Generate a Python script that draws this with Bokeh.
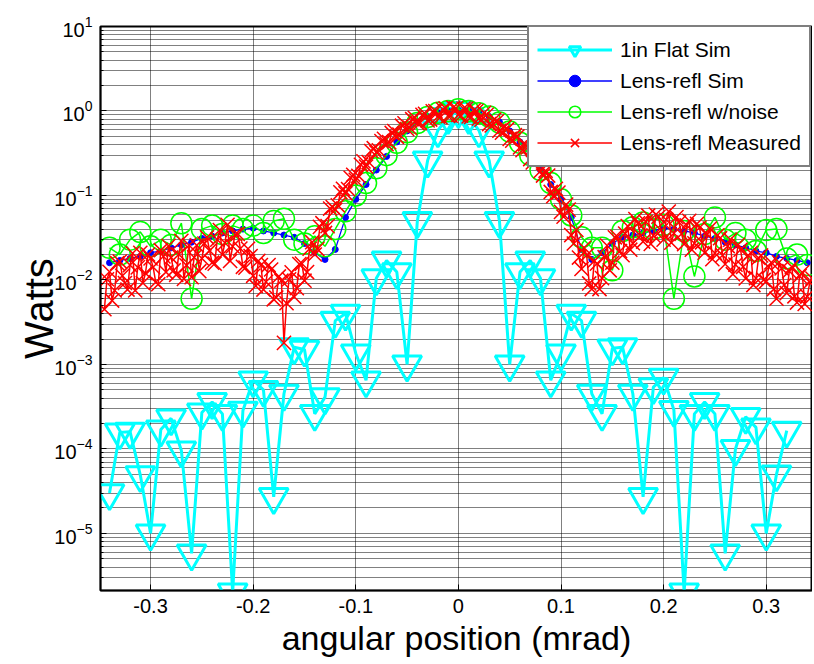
import numpy as np
from bokeh.plotting import figure
from bokeh.models import (Range1d, FixedTicker, LogTickFormatter, CustomJSTickFormatter,
                          Legend, LegendItem)
from bokeh.embed import file_html
from bokeh.resources import INLINE

FONT = "Liberation Sans"

# ---------------- data ----------------
flat_x = [round(-0.34 + 0.01 * i, 2) for i in range(67)]          # -0.34 .. 0.32
flat_y = [3.0e-5, 1.57e-4, 1.6e-4, 4.9e-5, 1.0e-5, 1.7e-4, 2.3e-4, 9.6e-5, 5.8e-6, 2.7e-4,
          3.6e-4, 2.6e-4, 2.0e-6, 2.85e-4, 6.5e-4, 5.0e-4, 2.7e-5, 4.5e-4, 1.6e-3, 1.5e-3,
          2.6e-4, 4.1e-4, 3.3e-3, 4.0e-3, 1.35e-3, 6.5e-4, 0.0105, 0.017, 0.0124, 1.0e-3,
          0.05, 0.26, 0.59, 0.85,
          1.0,
          0.85, 0.59, 0.26, 0.05, 1.0e-3, 0.0124, 0.017, 0.0105, 6.5e-4, 1.35e-3,
          4.0e-3, 3.3e-3, 4.5e-4, 2.6e-4, 1.55e-3, 1.6e-3, 4.5e-4, 2.7e-5, 5.4e-4, 7.0e-4,
          2.9e-4, 2.0e-6, 2.6e-4, 3.6e-4, 2.6e-4, 5.8e-6, 1.0e-4, 2.4e-4, 1.8e-4, 1.0e-5,
          5.0e-5, 1.65e-4]

sim_x = [round(-0.34 + 0.01 * i, 2) for i in range(69)]           # -0.34 .. 0.34
sim_y = [0.016, 0.017, 0.018, 0.019, 0.021, 0.022, 0.024, 0.026, 0.028, 0.031,
         0.033, 0.036, 0.038, 0.040, 0.041, 0.038, 0.036, 0.034, 0.032, 0.027,
         0.021, 0.0175, 0.023, 0.055, 0.09, 0.135, 0.20, 0.29, 0.43, 0.58,
         0.74, 0.86, 0.95, 1.0,
         1.02,
         1.0, 0.95, 0.86, 0.74, 0.58, 0.43, 0.29, 0.20, 0.135, 0.09,
         0.055, 0.023, 0.0175, 0.021, 0.027, 0.032, 0.034, 0.036, 0.038, 0.041,
         0.040, 0.038, 0.036, 0.033, 0.031, 0.028, 0.026, 0.024, 0.022, 0.021,
         0.019, 0.018, 0.017, 0.016]

noise_y = [0.024, 0.020, 0.030, 0.037, 0.025, 0.030, 0.026, 0.047, 0.006, 0.040,
           0.044, 0.035, 0.044, 0.040, 0.044, 0.036, 0.050, 0.053, 0.030, 0.027,
           0.033, 0.025, 0.040, 0.065, 0.10, 0.14, 0.21, 0.30, 0.42, 0.56,
           0.72, 0.85, 0.95, 1.0,
           1.05,
           1.0, 0.94, 0.86, 0.73, 0.57, 0.42, 0.30, 0.20, 0.14, 0.09,
           0.058, 0.032, 0.024, 0.024, 0.013, 0.038, 0.042, 0.048, 0.040, 0.045,
           0.006, 0.038, 0.011, 0.035, 0.055, 0.030, 0.036, 0.030, 0.022, 0.039,
           0.040, 0.018, 0.020, 0.015]

# measured samples on the 0.005 grid (-0.345 .. 0.345)
meas_x_a = [round(-0.345 + 0.005 * i, 4) for i in range(139)]
meas_y_a = [0.0045, 0.0125, 0.0075, 0.0165, 0.0092, 0.015, 0.0075, 0.021, 0.012, 0.018,
            0.0094, 0.0225, 0.0124, 0.0184, 0.0115, 0.029, 0.0149, 0.0108, 0.0257, 0.018,
            0.032, 0.016, 0.030, 0.020, 0.045, 0.025, 0.035, 0.0143, 0.0234, 0.0112,
            0.0168, 0.0077, 0.015, 0.0059, 0.011, 0.0018, 0.0102, 0.0063, 0.0154, 0.0098,
            0.0234, 0.020, 0.0425, 0.036, 0.070,
            0.0675, 0.109, 0.106, 0.162, 0.153, 0.231, 0.22, 0.336, 0.324, 0.44,
            0.405, 0.55, 0.495, 0.67, 0.612, 0.80, 0.72, 0.90, 0.774, 0.99,
            0.856, 1.045, 0.873, 1.10, 0.90, 1.067, 0.864, 1.02, 0.81, 0.95,
            0.70, 0.79, 0.585, 0.65, 0.468, 0.517, 0.37, 0.403, 0.27, 0.286,
            0.194, 0.196, 0.11, 0.12, 0.064, 0.078, 0.034, 0.039,
            0.0135, 0.0196, 0.0078, 0.0156, 0.0105, 0.0255, 0.016, 0.0324, 0.0196, 0.0434,
            0.0272, 0.0468, 0.0285, 0.058, 0.0336, 0.056, 0.030, 0.0645, 0.0357, 0.048,
            0.0266, 0.050, 0.0272, 0.0416, 0.021, 0.0406, 0.0208, 0.0312, 0.0154, 0.030,
            0.0152, 0.0228, 0.0104, 0.021, 0.0105, 0.0195, 0.0096, 0.0161, 0.006, 0.0137,
            0.007, 0.0143, 0.0054, 0.0123, 0.0064, 0.0104]
# measured samples in between (-0.3425 .. 0.3425)
meas_x_b = [round(-0.3425 + 0.005 * i, 4) for i in range(138)]
meas_y_b = [0.0102, 0.0057, 0.0158, 0.0112, 0.0077, 0.0207, 0.0141, 0.0092, 0.020, 0.0142,
            0.0089, 0.019, 0.0253, 0.013, 0.0201, 0.0103, 0.0258, 0.0185, 0.0127, 0.027,
            0.0222, 0.0156, 0.039, 0.0275, 0.0168, 0.0345, 0.0235, 0.014, 0.0192, 0.0085,
            0.015, 0.0095, 0.0133, 0.0062, 0.0098, 0.0053, 0.0123, 0.008, 0.0156, 0.0124,
            0.028, 0.0232, 0.047, 0.0434,
            0.073, 0.0765, 0.12, 0.119, 0.176, 0.171, 0.253, 0.248, 0.363, 0.342,
            0.468, 0.428, 0.578, 0.527, 0.715, 0.635, 0.83, 0.72, 0.924, 0.792,
            1.0, 0.846, 1.075, 0.878, 1.078, 0.878, 1.06, 0.85, 1.0, 0.79,
            0.9, 0.675, 0.754, 0.553, 0.605, 0.445, 0.5, 0.343, 0.37, 0.246,
            0.269, 0.172, 0.172, 0.098, 0.108, 0.056, 0.068, 0.027,
            0.0184, 0.024, 0.0091, 0.0168, 0.0078, 0.0186, 0.013, 0.032, 0.022, 0.0354,
            0.0228, 0.0525, 0.0333, 0.0488, 0.0267, 0.0595, 0.0387, 0.0516, 0.0276, 0.0554,
            0.0351, 0.0444, 0.0228, 0.0462, 0.0279, 0.0348, 0.0176, 0.0338, 0.0196, 0.0252,
            0.0117, 0.0261, 0.0143, 0.0194, 0.0087, 0.0182, 0.01, 0.0142, 0.0078, 0.0162,
            0.0087, 0.0127, 0.0064, 0.0111, 0.0052, 0.0094]

meas = sorted(zip(meas_x_a + meas_x_b, meas_y_a + meas_y_b))
meas_x = [m[0] for m in meas]
meas_y = [m[1] for m in meas]

x_ticks = [-0.3, -0.2, -0.1, 0.0, 0.1, 0.2, 0.3]
y_ticks = [1e-5, 1e-4, 1e-3, 1e-2, 1e-1, 1e0, 1e1]
y_minor = [m * 10.0 ** k for k in range(-6, 1) for m in range(2, 10)]

labels = ["1in Flat Sim", "Lens-refl Sim", "Lens-refl w/noise", "Lens-refl Measured"]

# ---------------- figure ----------------
p = figure(width=812, height=662, y_axis_type="log",
           x_range=Range1d(-0.3488, 0.3451), y_range=Range1d(2.11e-6, 10),
           output_backend="svg", toolbar_location=None,
           min_border_left=100, min_border_right=0, min_border_top=26, min_border_bottom=72)
p.background_fill_color = "white"
p.border_fill_color = "white"
p.outline_line_color = "black"
p.outline_line_width = 2

c_line = p.line(flat_x, flat_y, line_color="#00FFFF", line_width=3)
c_mark = p.scatter(flat_x, flat_y, marker="inverted_triangle", size=29, fill_color=None,
                   line_color="#00FFFF", line_width=3)
b_line = p.line(sim_x, sim_y, line_color="#0000FF", line_width=1.3)
b_mark = p.scatter(sim_x, sim_y, marker="circle", size=6, fill_color="#0000FF",
                   line_color="#0000FF")
g_line = p.line(sim_x, noise_y, line_color="#00FF00", line_width=1.5)
g_mark = p.scatter(sim_x, noise_y, marker="circle", size=21, fill_color=None,
                   line_color="#00FF00", line_width=1.5)
r_line = p.line(meas_x, meas_y, line_color="#FF0000", line_width=1.5)
r_mark = p.scatter(meas_x, meas_y, marker="x", size=20, line_color="#FF0000", line_width=1.5)

# axes
p.xaxis.ticker = FixedTicker(ticks=x_ticks)
p.xaxis.formatter = CustomJSTickFormatter(code="return tick == 0 ? '0' : tick.toFixed(1);")
p.yaxis.ticker = FixedTicker(ticks=y_ticks, minor_ticks=y_minor)
p.yaxis.formatter = LogTickFormatter()
for ax in (p.xaxis, p.yaxis):
    ax.axis_line_color = "black"
    ax.axis_line_width = 1.5
    ax.major_tick_in = 6
    ax.major_tick_out = 0
    ax.major_tick_line_color = "black"
    ax.major_label_text_font = FONT
    ax.major_label_text_font_size = "20px"
    ax.major_label_text_color = "black"
    ax.axis_label_text_font = FONT
    ax.axis_label_text_font_style = "normal"
    ax.axis_label_text_color = "black"
p.xaxis.axis_label_text_font_size = "34px"
p.yaxis.axis_label_text_font_size = "40px"
p.xaxis.minor_tick_line_color = None
p.yaxis.minor_tick_in = 3
p.yaxis.minor_tick_out = 0
p.yaxis.minor_tick_line_color = "black"
p.xaxis.major_label_standoff = 8
p.yaxis.major_label_standoff = 8
p.xaxis.axis_label = "angular position (mrad)"
p.yaxis.axis_label = "Watts"
p.xaxis.axis_label_standoff = 3
p.yaxis.axis_label_standoff = -10

# grid
for g in (p.xgrid, p.ygrid):
    g.grid_line_color = "black"
    g.grid_line_dash = "1 1"
    g.grid_line_alpha = 1
p.ygrid.minor_grid_line_color = "black"
p.ygrid.minor_grid_line_dash = "1 1"
p.ygrid.minor_grid_line_alpha = 1

legend = Legend(items=[
    LegendItem(label=labels[0], renderers=[c_line, c_mark]),
    LegendItem(label=labels[1], renderers=[b_line, b_mark]),
    LegendItem(label=labels[2], renderers=[g_line, g_mark]),
    LegendItem(label=labels[3], renderers=[r_line, r_mark]),
], location=(427, 423))
legend.padding = 8
legend.spacing = 2
legend.glyph_width = 75
legend.glyph_height = 29
legend.label_standoff = 8
legend.label_text_font = FONT
legend.label_text_font_size = "21px"
legend.label_text_color = "black"
legend.border_line_color = "black"
legend.border_line_width = 2
legend.background_fill_color = "white"
legend.background_fill_alpha = 1
p.add_layout(legend)

open("out.html", "w").write(file_html(p, INLINE))
